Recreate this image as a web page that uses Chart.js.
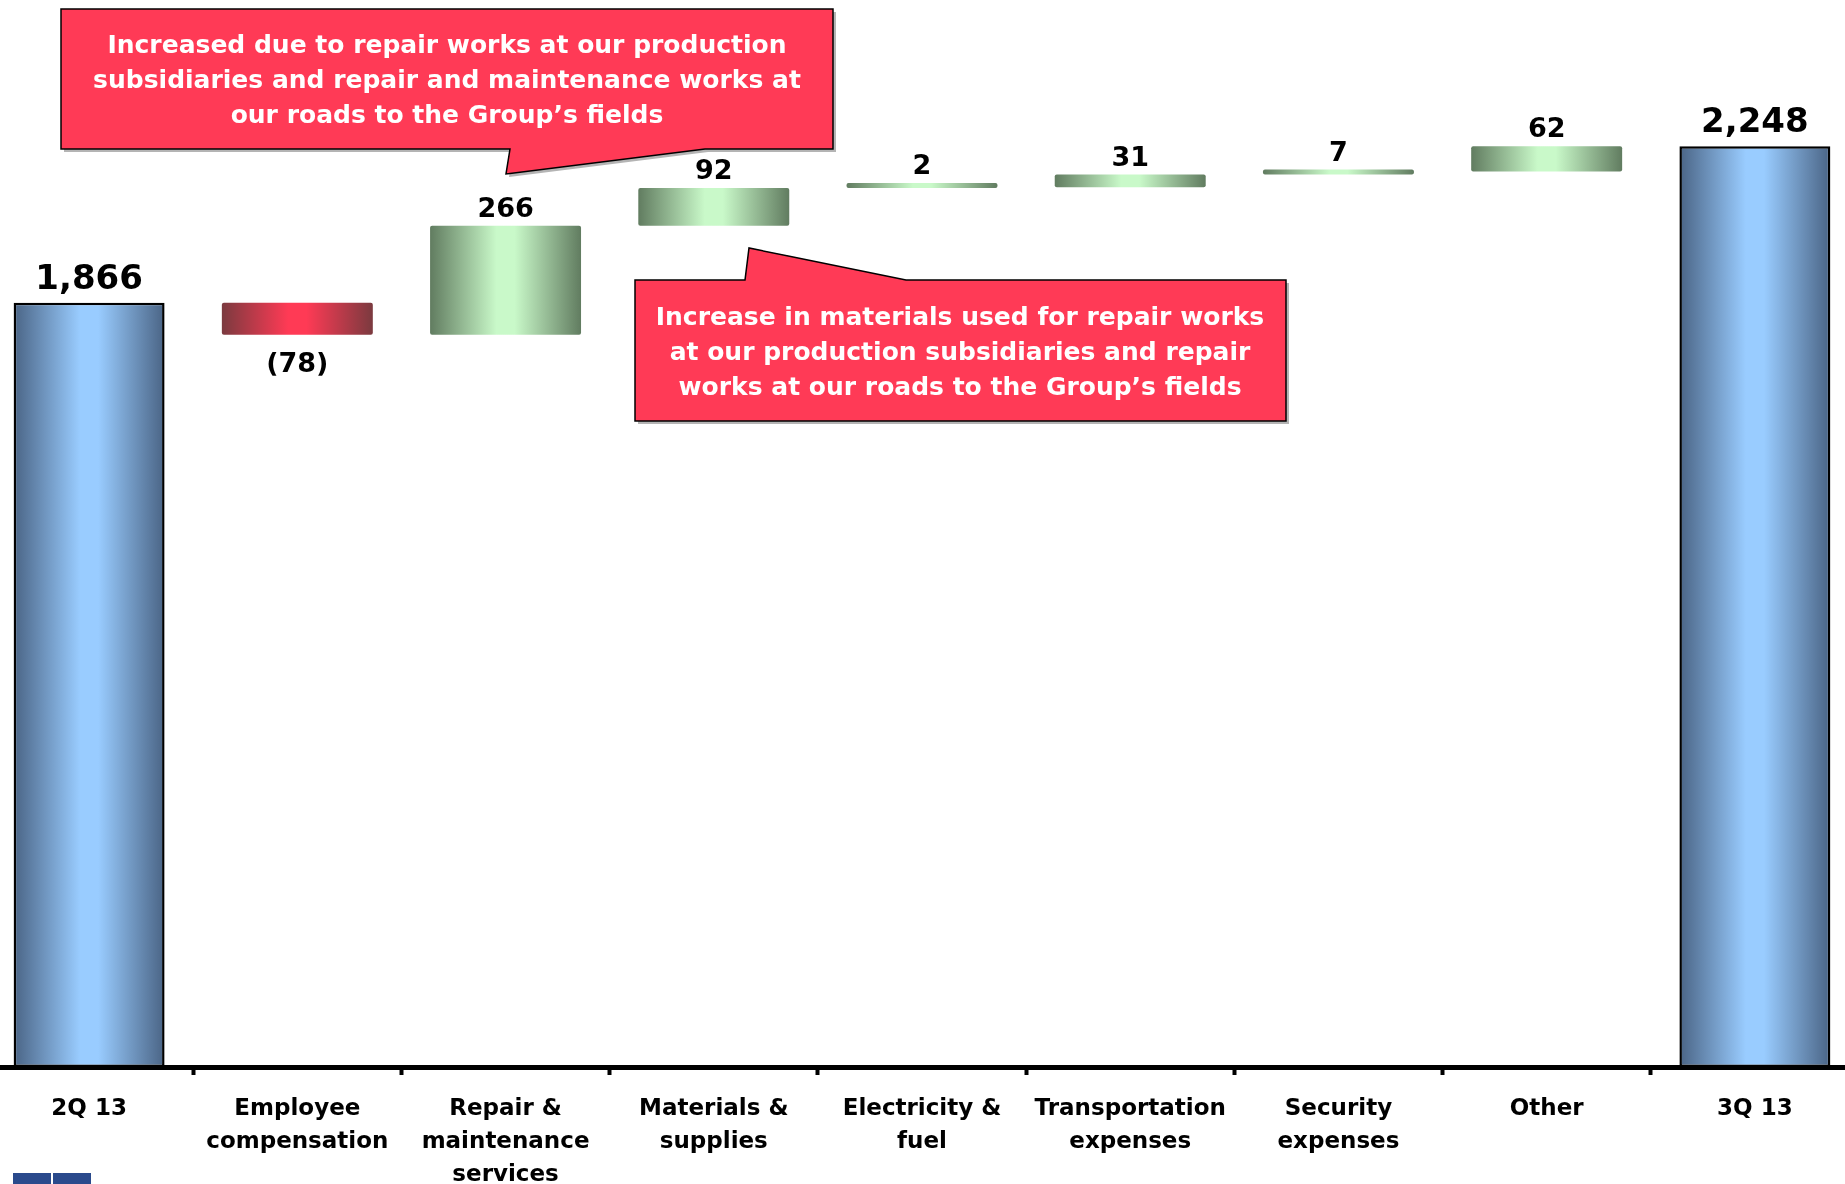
<!DOCTYPE html>
<html>
<head>
<meta charset="utf-8">
<script src="https://cdn.jsdelivr.net/npm/chart.js@4.4.1/dist/chart.umd.min.js"></script>
<style>
  html, body { margin: 0; padding: 0; background: #fff; width: 1845px; height: 1184px; overflow: hidden; }
  #wrap { position: absolute; left: -15px; top: 0; width: 1874px; height: 1184px; }
  #notes { position: absolute; left: 0; top: 0; }
  #notes text { font-family: "DejaVu Sans", sans-serif; font-weight: bold; font-size: 25px; fill: #fff; }
  .logo { position: absolute; top: 1173px; width: 38px; height: 20px; background: #2a4a8c; }
</style>
</head>
<body>
<div id="wrap"><canvas id="c"></canvas></div>

<svg id="notes" width="1845" height="1184">
  <!-- nota sobre reparaciones -->
  <polygon points="64,12 836,12 836,152 708,152 509,177 513,152 64,152" fill="#b4b4b4"/>
  <polygon points="61,9 833,9 833,149 705,149 506,174 510,149 61,149" fill="#ff3a56" stroke="#000" stroke-width="1.5"/>
  <text x="447" y="44" text-anchor="middle" dominant-baseline="central">Increased due to repair works at our production</text>
  <text x="447" y="79" text-anchor="middle" dominant-baseline="central">subsidiaries and repair and maintenance works at</text>
  <text x="447" y="114" text-anchor="middle" dominant-baseline="central">our roads to the Group’s fields</text>
  <!-- nota sobre materiales -->
  <polygon points="638,283 748,283 752,251 909,283 1289,283 1289,424 638,424" fill="#b4b4b4"/>
  <polygon points="635,280 745,280 749,248 906,280 1286,280 1286,421 635,421" fill="#ff3a56" stroke="#000" stroke-width="1.5"/>
  <text x="960" y="316" text-anchor="middle" dominant-baseline="central">Increase in materials used for repair works</text>
  <text x="960" y="351" text-anchor="middle" dominant-baseline="central">at our production subsidiaries and repair</text>
  <text x="960" y="386" text-anchor="middle" dominant-baseline="central">works at our roads to the Group’s fields</text>
</svg>

<div class="logo" style="left:13px"></div>
<div class="logo" style="left:53px"></div>

<script>
// Datos
const categories = [
  ["2Q 13"],
  ["Employee", "compensation"],
  ["Repair &", "maintenance", "services"],
  ["Materials &", "supplies"],
  ["Electricity &", "fuel"],
  ["Transportation", "expenses"],
  ["Security", "expenses"],
  ["Other"],
  ["3Q 13"]
];
const startTotal = 1866;
const changes = [-78, 266, 92, 2, 31, 7, 62];
const endTotal = 2248;
const valueLabels = ["1,866", "(78)", "266", "92", "2", "31", "7", "62", "2,248"];

// Construir rangos flotantes de la cascada
const ranges = [[0, startTotal]];
const kinds = ["total"];
let acc = startTotal;
changes.forEach(v => {
  ranges.push([acc, acc + v]);
  kinds.push(v < 0 ? "down" : "up");
  acc += v;
});
ranges.push([0, endTotal]);
kinds.push("total");

const BAR_PCT = 0.725;
const palettes = {
  total: ["#4a6485", "#99ccff"],
  up:    ["#617c60", "#c9f9c9"],
  down:  ["#7b3a3f", "#ff3a55"]
};

function barFill(ctx) {
  const chart = ctx.chart;
  const pal = palettes[kinds[ctx.dataIndex]];
  if (!chart.chartArea) return pal[1];
  const sx = chart.scales.x;
  const cx = sx.getPixelForValue(ctx.dataIndex);
  const half = sx.width / categories.length * BAR_PCT / 2;
  const g = chart.ctx.createLinearGradient(cx - half, 0, cx + half, 0);
  g.addColorStop(0, pal[0]);
  g.addColorStop(0.44, pal[1]);
  g.addColorStop(0.56, pal[1]);
  g.addColorStop(1, pal[0]);
  return g;
}

// Etiquetas de valor encima / debajo de cada barra
const valueLabelPlugin = {
  id: "valueLabels",
  afterDatasetsDraw(chart) {
    const c = chart.ctx;
    const meta = chart.getDatasetMeta(0);
    c.save();
    c.fillStyle = "#000";
    c.textAlign = "center";
    c.textBaseline = "middle";
    meta.data.forEach((bar, i) => {
      const top = Math.min(bar.y, bar.base);
      const bottom = Math.max(bar.y, bar.base);
      if (kinds[i] === "total") {
        c.font = "bold 34px 'DejaVu Sans'";
        c.fillText(valueLabels[i], bar.x, top - 23);
      } else if (kinds[i] === "down") {
        c.font = "bold 27px 'DejaVu Sans'";
        c.fillText(valueLabels[i], bar.x, bottom + 30);
      } else {
        c.font = "bold 27px 'DejaVu Sans'";
        c.fillText(valueLabels[i], bar.x, top - 16);
      }
    });
    c.restore();
  }
};

new Chart(document.getElementById("c").getContext("2d"), {
  type: "bar",
  data: {
    labels: categories,
    datasets: [{
      data: ranges,
      backgroundColor: barFill,
      borderColor: ctx => kinds[ctx.dataIndex] === "total" ? "#000" : "rgba(0,0,0,0)",
      borderWidth: ctx => kinds[ctx.dataIndex] === "total" ? 2.5 : 0,
      borderSkipped: false,
      borderRadius: ctx => kinds[ctx.dataIndex] === "total" ? 0 : 2,
      minBarLength: 5,
      categoryPercentage: 1,
      barPercentage: BAR_PCT
    }]
  },
  options: {
    responsive: true,
    maintainAspectRatio: false,
    animation: false,
    layout: { padding: 0 },
    plugins: { legend: { display: false }, tooltip: { enabled: false } },
    scales: {
      x: {
        z: 1,
        grid: {
          drawOnChartArea: false,
          drawTicks: true,
          tickLength: 8,
          tickWidth: 4,
          tickColor: "#000"
        },
        border: { display: true, color: "#000", width: 5 },
        ticks: {
          color: "#000",
          font: { family: "DejaVu Sans", weight: "bold", size: 23, lineHeight: 1.45 },
          padding: 17,
          maxRotation: 0,
          autoSkip: false
        },
        afterFit: s => { s.height = 117; }
      },
      y: { display: false, min: 0, max: 2605 }
    }
  },
  plugins: [valueLabelPlugin]
});
</script>
</body>
</html>
